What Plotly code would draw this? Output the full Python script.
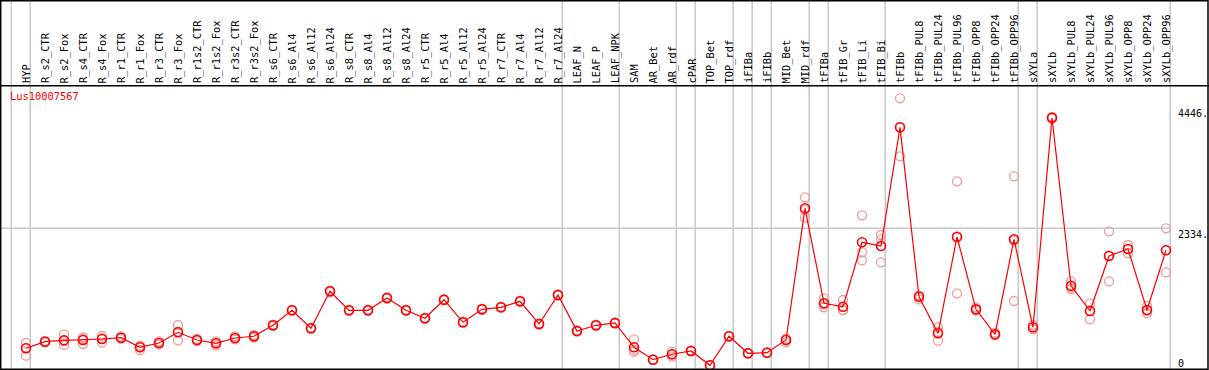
import plotly.graph_objects as go

# ---------------- data ----------------
samples = ["HYP", "R_s2_CTR", "R_s2_Fox", "R_s4_CTR", "R_s4_Fox", "R_r1_CTR", "R_r1_Fox",
           "R_r3_CTR", "R_r3_Fox", "R_r1s2_CTR", "R_r1s2_Fox", "R_r3s2_CTR", "R_r3s2_Fox",
           "R_s6_CTR", "R_s6_Al4", "R_s6_Al12", "R_s6_Al24", "R_s8_CTR", "R_s8_Al4",
           "R_s8_Al12", "R_s8_Al24", "R_r5_CTR", "R_r5_Al4", "R_r5_Al12", "R_r5_Al24",
           "R_r7_CTR", "R_r7_Al4", "R_r7_Al12", "R_r7_Al24", "LEAF_N", "LEAF_P", "LEAF_NPK",
           "SAM", "AR_Bet", "AR_rdf", "cPAR", "TOP_Bet", "TOP_rdf", "iFIBa", "iFIBb",
           "MID_Bet", "MID_rdf", "tFIBa", "tFIB_Gr", "tFIB_Li", "tFIB_Bi", "tFIBb",
           "tFIBb_PUL8", "tFIBb_PUL24", "tFIBb_PUL96", "tFIBb_OPP8", "tFIBb_OPP24",
           "tFIBb_OPP96", "sXYLa", "sXYLb", "sXYLb_PUL8", "sXYLb_PUL24", "sXYLb_PUL96",
           "sXYLb_OPP8", "sXYLb_OPP24", "sXYLb_OPP96"]

group_sizes = [1, 28, 3, 3, 1, 2, 1, 1, 2, 1, 3, 7, 1, 7]

mean_values = [293, 405, 429, 434, 451, 473, 310, 383, 565, 434, 378, 468, 497,
               684, 939, 633, 1262, 939, 939, 1148, 939, 803, 1119, 735, 956, 990,
               1092, 706, 1199, 587, 684, 723, 310, 99, 191, 247, 3, 497, 208, 218,
               434, 2674, 1058, 1000, 2096, 2033, 4052, 1170, 548, 2186, 956, 531,
               2147, 650, 4215, 1357, 927, 1863, 1982, 944, 1960]

replicates = [
    [383, 167, 298], [417, 394, 405], [524, 349, 417], [480, 366, 451],
    [502, 388, 459], [497, 456, 468], [337, 264, 327], [412, 354, 383],
    [689, 429, 575], [451, 417, 434], [412, 344, 378], [497, 446, 463],
    [519, 476, 493], [695, 672, 684], [950, 928, 939], [645, 622, 633],
    [1275, 1250, 1262], [950, 928, 939], [948, 930, 939], [1160, 1136, 1148],
    [950, 928, 939], [814, 792, 803], [1130, 1108, 1119], [746, 724, 735],
    [967, 945, 956], [1001, 979, 990], [1103, 1081, 1092], [717, 695, 706],
    [1210, 1188, 1199], [598, 576, 587], [695, 673, 684], [734, 712, 723],
    [446, 235, 264], [95, 99, 104], [235, 150, 191], [247, 240, 255],
    [0, 3, 6], [505, 490, 497], [214, 202, 208], [224, 212, 218],
    [456, 395, 448], [2861, 2514, 2647], [1143, 990, 1040], [1114, 944, 942],
    [2555, 1926, 1789], [2220, 2147, 1755], [4545, 3558, 4053], [1126, 1190, 1194],
    [650, 422, 572], [3133, 1228, 2197], [990, 932, 946], [520, 558, 515],
    [3218, 1097, 2126], [689, 616, 645], [4230, 4200, 4215], [1437, 1301, 1333],
    [1058, 786, 937], [2283, 1432, 1874], [2050, 1982, 1914], [1012, 888, 932],
    [2334, 1585, 1961]]

gene_id = "Lus10007567"
axis_labels = [4446, 2334, 0]

# ---------------- figure ----------------
W, H = 1209, 370
idx = list(range(len(samples)))

rep_x, rep_y = [], []
for i, reps in enumerate(replicates):
    for v in reps:
        rep_x.append(i)
        rep_y.append(v)

fig = go.Figure()

fig.add_trace(go.Scatter(
    x=rep_x, y=rep_y, mode="markers",
    marker=dict(symbol="circle-open", size=9, color="#f09a9a", line=dict(width=1.3)),
    hoverinfo="skip", showlegend=False))

fig.add_trace(go.Scatter(
    x=idx, y=mean_values, mode="lines+markers",
    line=dict(color="#ff0000", width=1.2),
    marker=dict(symbol="circle-open", size=9, color="#ff0000", line=dict(width=1.6)),
    text=samples, hovertemplate="%{text}: %{y}<extra></extra>", showlegend=False))

# pixel helpers for layout
px_per_idx = 19.0
x0_px = 26.0
xmin = -x0_px / px_per_idx
xmax = xmin + W / px_per_idx
zero_px = 365.5
px_per_unit = (zero_px - 228.3) / 2334.0
ymax = zero_px / px_per_unit
ymin = -(H - zero_px) / px_per_unit


def py(px):
    return 1 - px / H


def pxx(px):
    return px / W


shapes = []
# group separators
boundaries = [-1]
c = 0
for g in group_sizes:
    c += g
    boundaries.append(c - 1)
for b in boundaries:
    shapes.append(dict(type="line", xref="x", yref="paper", x0=b + 0.22, x1=b + 0.22,
                       y0=0, y1=1, line=dict(color="#c8c8c8", width=1.5), layer="below"))
# horizontal grid line at the middle label
shapes.append(dict(type="line", xref="paper", yref="y", x0=0, x1=pxx(1170.7),
                   y0=axis_labels[1], y1=axis_labels[1],
                   line=dict(color="#c8c8c8", width=1.5), layer="below"))
# frame and separator
shapes.append(dict(type="rect", xref="paper", yref="paper", x0=pxx(0.7), x1=pxx(1208),
                   y0=py(369.3), y1=py(0.7), line=dict(color="black", width=1.5)))
shapes.append(dict(type="line", xref="paper", yref="paper", x0=0, x1=1,
                   y0=py(85.7), y1=py(85.7), line=dict(color="black", width=1.5)))

annotations = []
for i, s in enumerate(samples):
    annotations.append(dict(x=i, xref="x", y=py(84.5), yref="paper", text=s,
                            textangle=-90, showarrow=False, xanchor="center",
                            yanchor="bottom", borderpad=0,
                            font=dict(family="DejaVu Sans Mono", size=10.4, color="black")))

annotations.append(dict(x=pxx(8), xref="paper", y=py(96), yref="paper", text=gene_id,
                        showarrow=False, xanchor="left", yanchor="middle",
                        font=dict(family="DejaVu Sans Mono", size=10.4, color="#ff0000")))

label_tops = [106.7, 228.3, 357.0]
for v, top in zip(axis_labels, label_tops):
    annotations.append(dict(x=pxx(1177), xref="paper", y=py(top), yref="paper",
                            text=f"{v}." if v != 0 else "0", showarrow=False,
                            xanchor="left", yanchor="top", borderpad=0,
                            font=dict(family="DejaVu Sans Mono", size=10, color="black")))

fig.update_layout(
    width=W, height=H,
    margin=dict(l=0, r=0, t=0, b=0),
    paper_bgcolor="white", plot_bgcolor="white",
    xaxis=dict(range=[xmin, xmax], visible=False, fixedrange=True),
    yaxis=dict(range=[ymin, ymax], visible=False, fixedrange=True),
    shapes=shapes, annotations=annotations,
)

fig.write_html("out.html",
               config={"displayModeBar": False},
               post_script="document.body.style.margin='0';document.body.style.overflow='hidden';")
